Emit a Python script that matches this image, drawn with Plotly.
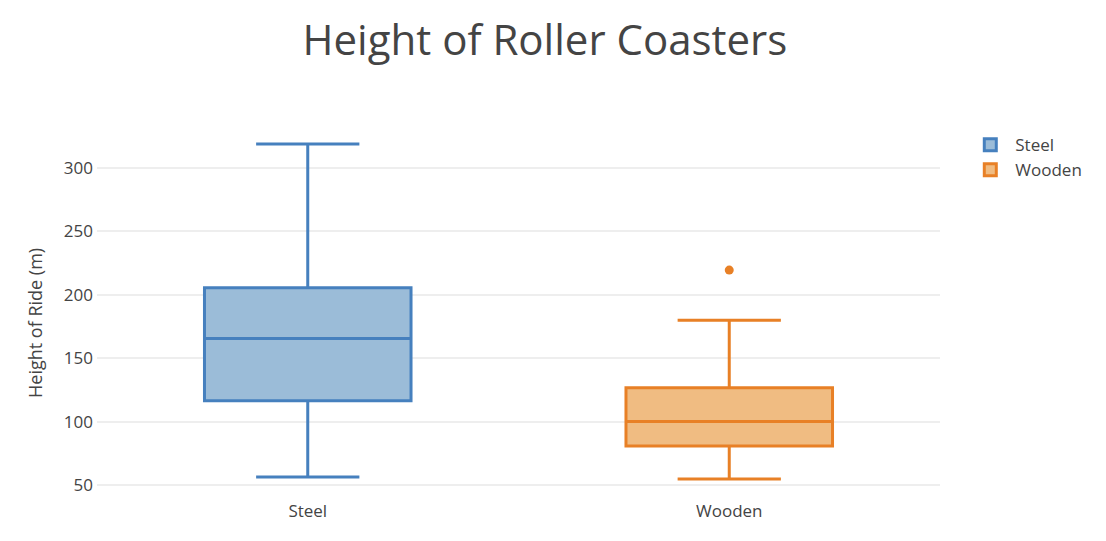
import plotly.graph_objects as go

categories = ["Steel", "Wooden"]
q1 = [116.5, 80.7]
median = [165.5, 100.0]
q3 = [205.5, 126.7]
lowerfence = [56.3, 54.7]
upperfence = [319.0, 180.0]
outlier_cat = ["Wooden"]
outlier_val = [219.5]

line_colors = ["rgb(70,128,190)", "rgb(232,128,38)"]
fill_colors = ["rgba(155,188,216,1)", "rgba(240,188,130,1)"]

fig = go.Figure()
for i, c in enumerate(categories):
    fig.add_trace(go.Box(
        name=c, x=[c], q1=[q1[i]], median=[median[i]], q3=[q3[i]],
        lowerfence=[lowerfence[i]], upperfence=[upperfence[i]],
        line=dict(color=line_colors[i], width=3), fillcolor=fill_colors[i],
        width=0.49, whiskerwidth=0.5, boxpoints=False,
    ))

fig.add_trace(go.Scatter(
    x=outlier_cat, y=outlier_val, mode="markers", showlegend=False,
    marker=dict(color=line_colors[1], size=9), hoverinfo="y",
))

font = "Open Sans, sans-serif"
fig.update_layout(
    width=1098, height=533,
    template="none",
    paper_bgcolor="white", plot_bgcolor="white",
    font=dict(family=font, color="#444", size=17),
    title=dict(text="Height of Roller Coasters", x=0.489, xanchor="center",
               y=0.94, yanchor="middle", font=dict(size=42, color="#444")),
    margin=dict(l=89, r=166, t=122, b=51),
    xaxis=dict(showgrid=False, zeroline=False, showline=False, ticks="",
               tickfont=dict(size=17), range=[-0.5, 1.5], automargin=False,
               ticklabelstandoff=9),
    yaxis=dict(showgrid=True, gridcolor="#eee", gridwidth=1.5, zeroline=False,
               showline=False, ticks="", tickfont=dict(size=17), automargin=False,
               ticklabelstandoff=3,
               range=[46, 330], tickvals=[50, 100, 150, 200, 250, 300]),
    legend=dict(x=1.03, xanchor="left", y=1.008, yanchor="top",
                font=dict(size=17), itemwidth=40),
    showlegend=True,
    annotations=[dict(text="Height of Ride (m)", textangle=-90, xref="paper", yref="paper",
                      x=-0.0735, y=0.464, xanchor="center", yanchor="middle",
                      showarrow=False, font=dict(size=18, color="#444"))],
)

fig.write_html("out.html")
